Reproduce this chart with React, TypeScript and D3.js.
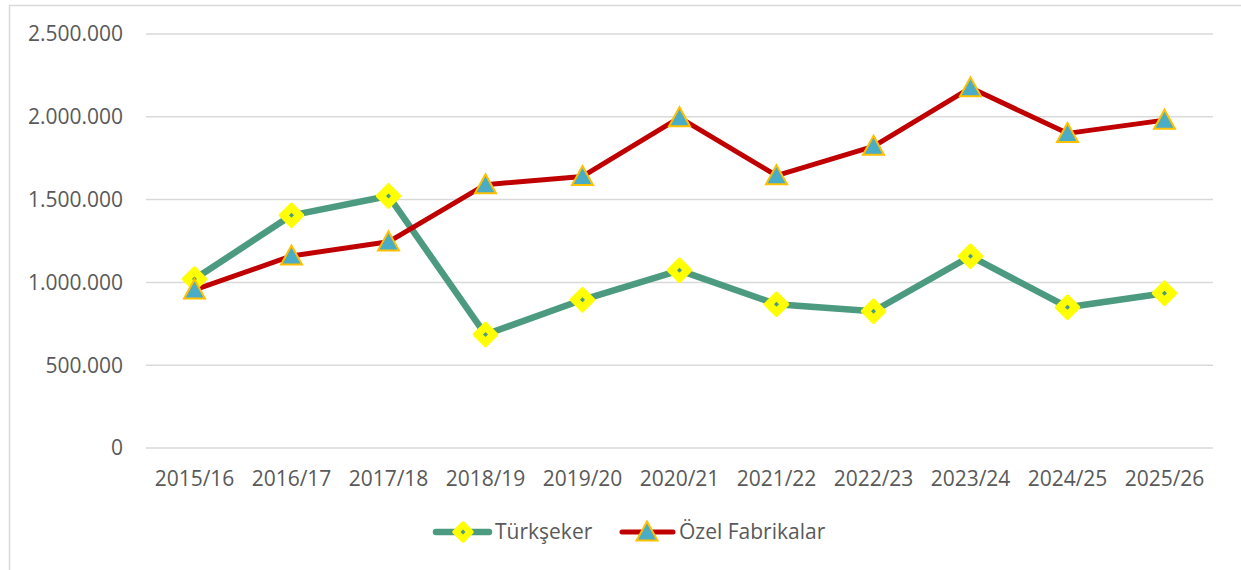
import React from "react";
import * as d3 from "d3";

const categories = ["2015/16","2016/17","2017/18","2018/19","2019/20","2020/21","2021/22","2022/23","2023/24","2024/25","2025/26"];
const turkseker = [1020000, 1405000, 1522000, 685000, 895000, 1073000, 868000, 826000, 1158000, 850000, 935000];
const ozel = [955000, 1160000, 1245000, 1590000, 1640000, 1995000, 1645000, 1822000, 2175000, 1900000, 1980000];
const yTicks = [0, 500000, 1000000, 1500000, 2000000, 2500000];
const seriesNames = ["Türkşeker", "Özel Fabrikalar"];

const W = 1241, H = 570;
const FONT = "'Open Sans', sans-serif";
const TXT = "#595959";
const GREEN = "#4C9B80";
const RED = "#C00000";
const YEL = "#FFFF00";
const TEAL = "#4BACC6";
const GOLD = "#FFC000";
const FS = 21;

const fmt = (v: number) => d3.format(",")(v).replace(/,/g, ".");

function Diamond({ x, y, s = 10 }: { x: number; y: number; s?: number }) {
  const p = `M${x},${y - s} L${x + s},${y} L${x},${y + s} L${x - s},${y} Z`;
  const q = `M${x},${y - 2.5} L${x + 2.5},${y} L${x},${y + 2.5} L${x - 2.5},${y} Z`;
  return (
    <g>
      <path d={p} fill={YEL} stroke={YEL} strokeWidth={3.5} strokeLinejoin="round" />
      <path d={q} fill={GREEN} />
    </g>
  );
}

function Triangle({ x, y }: { x: number; y: number }) {
  const h = 19, w = 21;
  const p = `M${x},${y - h * 0.55} L${x + w / 2},${y + h * 0.45} L${x - w / 2},${y + h * 0.45} Z`;
  return <path d={p} fill={TEAL} stroke={GOLD} strokeWidth={2} strokeLinejoin="miter" />;
}

export default function App() {
  const x = d3.scaleBand<string>().domain(categories).range([146, 1213]);
  const y = d3.scaleLinear().domain([0, 2500000]).range([448, 34]);
  const cx = (c: string) => (x(c) as number) + x.bandwidth() / 2;
  const line = d3.line<number>().x((_, i) => cx(categories[i])).y((d) => y(d));

  return (
    <svg width={W} height={H} style={{ position: "absolute", left: 0, top: 0 }} fontFamily={FONT}>
      <rect x={0} y={0} width={W} height={H} fill="#fff" />
      <rect x={9.5} y={5.5} width={W + 10} height={H + 10} fill="none" stroke="#D9D9D9" strokeWidth={1.5} />
      {yTicks.map((t) => (
        <g key={t}>
          <line x1={146} x2={1213} y1={y(t)} y2={y(t)} stroke="#D9D9D9" strokeWidth={1.5} />
          <text x={123} y={y(t)} dy="0.35em" textAnchor="end" fontSize={FS} fill={TXT}>{fmt(t)}</text>
        </g>
      ))}
      {categories.map((c) => (
        <text key={c} x={cx(c)} y={479} dy="0.35em" textAnchor="middle" fontSize={FS} fill={TXT}>{c}</text>
      ))}
      <path d={line(turkseker) || ""} fill="none" stroke={GREEN} strokeWidth={6.5} strokeLinejoin="round" />
      <path d={line(ozel) || ""} fill="none" stroke={RED} strokeWidth={5} strokeLinejoin="round" />
      {turkseker.map((v, i) => <Diamond key={"d" + i} x={cx(categories[i])} y={y(v)} s={11} />)}
      {ozel.map((v, i) => <Triangle key={"t" + i} x={cx(categories[i])} y={y(v)} />)}
      {/* legend */}
      <line x1={436} x2={489} y1={532} y2={532} stroke={GREEN} strokeWidth={6.5} strokeLinecap="round" />
      <Diamond x={463} y={532} s={9} />
      <text x={495} y={532} dy="0.35em" fontSize={FS} fill={TXT}>{seriesNames[0]}</text>
      <line x1={622} x2={673} y1={532} y2={532} stroke={RED} strokeWidth={5} strokeLinecap="round" />
      <Triangle x={647} y={532} />
      <text x={679} y={532} dy="0.35em" fontSize={FS} fill={TXT}>{seriesNames[1]}</text>
    </svg>
  );
}
